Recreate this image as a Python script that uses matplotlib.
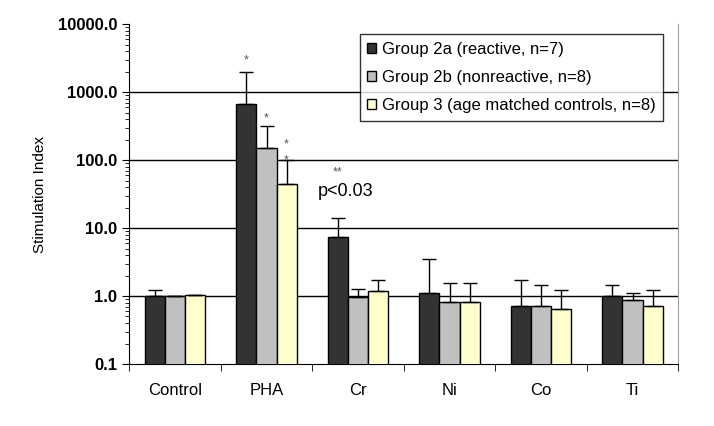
import numpy as np
import matplotlib.pyplot as plt
from matplotlib.ticker import FixedLocator, LogLocator, NullFormatter

plt.rcParams['font.family'] = ['Liberation Sans', 'DejaVu Sans']

categories = ["Control", "PHA", "Cr", "Ni", "Co", "Ti"]
groups = ["Group 2a (reactive, n=7)",
          "Group 2b (nonreactive, n=8)",
          "Group 3 (age matched controls, n=8)"]
g2a = [1.0, 660, 7.3, 1.12, 0.72, 1.0]
g2b = [1.0, 148, 0.98, 0.83, 0.72, 0.86]
g3 = [1.05, 45, 1.17, 0.82, 0.65, 0.72]
g2a_top = [1.22, 2000, 14, 3.5, 1.75, 1.45]
g2b_top = [1.0, 320, 1.25, 1.55, 1.45, 1.12]
g3_top = [1.05, 100, 1.75, 1.55, 1.22, 1.22]
colors = ["#333333", "#c0c0c0", "#ffffcc"]

fig = plt.figure(figsize=(7.14, 4.26), dpi=100)
ax = fig.add_axes([0.181, 0.1455, 0.769, 0.798])

x = np.arange(len(categories))
w = 0.22
series = [(g2a, g2a_top), (g2b, g2b_top), (g3, g3_top)]
for i, (vals, tops) in enumerate(series):
    pos = x + (i - 1) * w
    vals = np.array(vals)
    up = np.array(tops) - vals
    ax.bar(pos, vals, w, bottom=1e-9, color=colors[i], edgecolor="black",
           linewidth=1, label=groups[i], zorder=3)
    ax.errorbar(pos, vals, yerr=[np.zeros_like(up), up], fmt="none", ecolor="black",
                elinewidth=1, capsize=5, capthick=1, zorder=4)

ax.set_yscale("log")
ax.set_ylim(0.1, 10000)
ax.set_xlim(-0.5, len(categories) - 0.5)
ax.yaxis.set_major_locator(FixedLocator([0.1, 1, 10, 100, 1000, 10000]))
ax.set_yticklabels(["0.1", "1.0", "10.0", "100.0", "1000.0", "10000.0"],
                   fontsize=12, fontweight="bold")
ax.yaxis.set_minor_locator(LogLocator(base=10, subs=np.arange(2, 10)))
ax.yaxis.set_minor_formatter(NullFormatter())
ax.tick_params(axis="y", which="major", length=5, direction="out")
ax.tick_params(axis="y", which="minor", length=3, direction="out")
for yv in [1, 10, 100, 1000]:
    ax.axhline(yv, color="black", linewidth=1, zorder=1)

ax.set_xticks(x)
ax.set_xticklabels(categories, fontsize=12)
ax.tick_params(axis="x", which="major", length=0, pad=14)
ax.set_xticks(np.arange(len(categories) + 1) - 0.5, minor=True)
ax.tick_params(axis="x", which="minor", length=5, direction="out")

ax.spines["top"].set_visible(False)
ax.spines["right"].set_color("#a0a0a0")
ax.set_ylabel("Stimulation Index", fontsize=11, labelpad=8)

# significance marks
star = dict(ha="center", va="center", fontsize=9, color="#555555")
ax.text(1 - w, 2900, "*", **star)
ax.text(1, 415, "*", **star)
ax.text(1 + w, 170, "*", **star)
ax.text(1 + w, 100, "*", **star)
ax.text(1.78, 65, "**", **star)
ax.text(1.86, 35, "p<0.03", ha="center", va="center", fontsize=13)

leg = ax.legend(loc="upper right", bbox_to_anchor=(0.9727, 0.9706), fontsize=12,
                frameon=True, fancybox=False, edgecolor="black", handlelength=0.55,
                handleheight=0.55, handletextpad=0.35, labelspacing=0.8,
                borderpad=0.45, borderaxespad=0)
leg.get_frame().set_linewidth(1)

fig.savefig("out.png", dpi=100)
